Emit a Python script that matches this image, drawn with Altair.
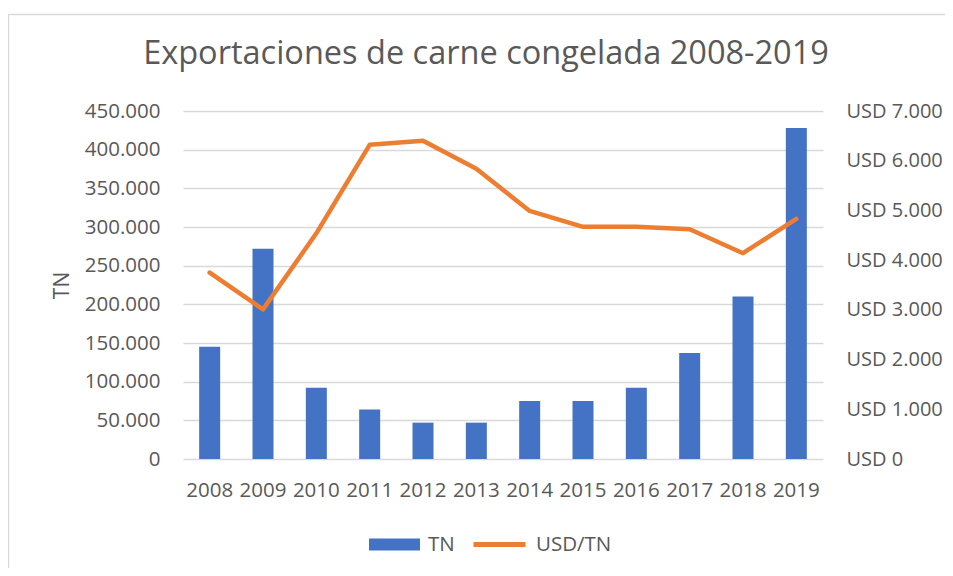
import altair as alt
import pandas as pd

years = ["2008", "2009", "2010", "2011", "2012", "2013", "2014", "2015", "2016", "2017", "2018", "2019"]
tn = [145000, 272000, 92000, 64000, 47000, 47000, 75000, 75000, 92000, 137000, 210000, 428000]
usd_tn = [3750, 3010, 4540, 6320, 6400, 5840, 4990, 4670, 4670, 4620, 4140, 4830]

left_ticks = [0, 50000, 100000, 150000, 200000, 250000, 300000, 350000, 400000, 450000]
right_ticks = [0, 1000, 2000, 3000, 4000, 5000, 6000, 7000]

df = pd.DataFrame({"year": years, "tn": tn, "usd": usd_tn})

FONT = "Open Sans"
TXT = "#595959"
GRID = "#d9d9d9"
BLUE = "#4472C4"
ORANGE = "#ED7D31"

base = alt.Chart(df)

x = alt.X("year:N", title=None, sort=years,
          scale=alt.Scale(paddingInner=0.0, paddingOuter=0.0),
          axis=alt.Axis(labelAngle=0, domain=False, ticks=False, labelPadding=21,
                        labelFontSize=20.5, labelColor=TXT, labelFont=FONT))

bars = base.mark_bar(size=21, color=BLUE).transform_calculate(serie="'TN'").encode(
    x=x,
    y=alt.Y("tn:Q", title="TN",
            scale=alt.Scale(domain=[0, 450000], nice=False),
            axis=alt.Axis(values=left_ticks, grid=True, gridColor=GRID, gridWidth=1.5,
                          domain=False, ticks=False, labelPadding=23,
                          labelFontSize=20.5, labelColor=TXT, labelFont=FONT,
                          labelExpr="replace(format(datum.value, ',.0f'), ',', '.')",
                          titleFontSize=21, titleColor=TXT, titleFont=FONT,
                          titleFontWeight="normal", titleAngle=270,
                          titleX=-121, titleY=174, titleAlign="center",
                          titleBaseline="middle")),
    color=alt.Color("serie:N",
                    scale=alt.Scale(domain=["TN"], range=[BLUE]),
                    legend=alt.Legend(title=None, orient="none", legendX=186, legendY=408,
                                      symbolType="M-1,-0.24H1V0.24H-1Z", symbolSize=2601,
                                      symbolStrokeWidth=0, labelFontSize=20.5,
                                      labelColor=TXT, labelFont=FONT, labelOffset=8)),
)

line = base.mark_line(strokeWidth=4.5, strokeCap="round", strokeJoin="round").transform_calculate(
    serie="'USD/TN'").encode(
    x=x,
    y=alt.Y("usd:Q", title=None,
            scale=alt.Scale(domain=[0, 7000], nice=False),
            axis=alt.Axis(orient="right", values=right_ticks, grid=False,
                          domain=False, ticks=False, labelPadding=23,
                          labelFontSize=20, labelColor=TXT, labelFont=FONT,
                          labelExpr="'USD ' + replace(format(datum.value, ',.0f'), ',', '.')")),
    color=alt.Color("serie:N",
                    scale=alt.Scale(domain=["USD/TN"], range=[ORANGE]),
                    legend=alt.Legend(title=None, orient="none", legendX=288, legendY=405,
                                      symbolType="stroke", symbolSize=2704,
                                      symbolStrokeWidth=5, labelFontSize=20.5,
                                      labelColor=TXT, labelFont=FONT, labelOffset=8)),
)

frame = alt.Chart(alt.Data(values=[{"a": 1}])).mark_rect(
    fillOpacity=0, stroke=GRID, strokeWidth=1.5).encode(
    x=alt.value(-174.5), x2=alt.value(900), y=alt.value(-96.5), y2=alt.value(600))

chart = alt.layer(frame, bars, line).resolve_scale(
    y="independent", color="independent"
).properties(
    width=640, height=348,
    padding={"left": 175, "top": 103, "right": 122, "bottom": 109},
    autosize=alt.AutoSizeParams(type="none"),
    title=alt.TitleParams("Exportaciones de carne congelada 2008-2019", fontSize=32.5,
                          font=FONT, fontWeight="normal", color=TXT, anchor="middle",
                          frame="group", offset=-83, baseline="alphabetic", dx=-17),
).configure_view(stroke=None)

chart.save("out.html", embed_options={"renderer": "svg", "actions": False})
